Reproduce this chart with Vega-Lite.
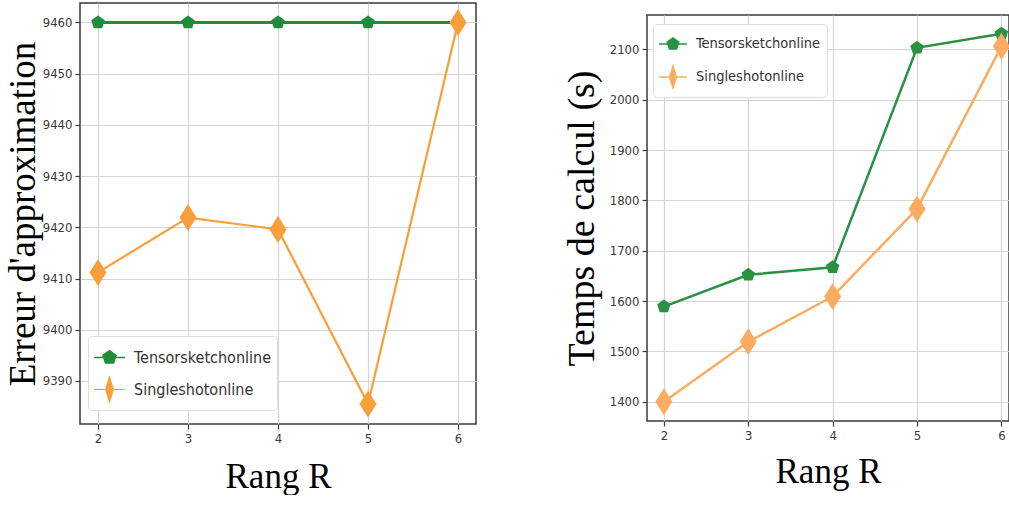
{
  "$schema": "https://vega.github.io/schema/vega-lite/v6.json",
  "padding": {"left": 3, "top": 2, "right": 0, "bottom": 0},
  "background": "white",
  "spacing": 85,
  "datasets": {
    "err": [
      {"R": 2, "serie": "Tensorsketchonline", "v": 9460},
      {"R": 3, "serie": "Tensorsketchonline", "v": 9460},
      {"R": 4, "serie": "Tensorsketchonline", "v": 9460},
      {"R": 5, "serie": "Tensorsketchonline", "v": 9460},
      {"R": 6, "serie": "Tensorsketchonline", "v": 9460},
      {"R": 2, "serie": "Singleshotonline", "v": 9411.2},
      {"R": 3, "serie": "Singleshotonline", "v": 9421.9},
      {"R": 4, "serie": "Singleshotonline", "v": 9419.6},
      {"R": 5, "serie": "Singleshotonline", "v": 9385.5},
      {"R": 6, "serie": "Singleshotonline", "v": 9460}
    ],
    "temps": [
      {"R": 2, "serie": "Tensorsketchonline", "v": 1589},
      {"R": 3, "serie": "Tensorsketchonline", "v": 1652},
      {"R": 4, "serie": "Tensorsketchonline", "v": 1667},
      {"R": 5, "serie": "Tensorsketchonline", "v": 2103},
      {"R": 6, "serie": "Tensorsketchonline", "v": 2131},
      {"R": 2, "serie": "Singleshotonline", "v": 1400},
      {"R": 3, "serie": "Singleshotonline", "v": 1519},
      {"R": 4, "serie": "Singleshotonline", "v": 1609},
      {"R": 5, "serie": "Singleshotonline", "v": 1783},
      {"R": 6, "serie": "Singleshotonline", "v": 2106}
    ],
    "empty": []
  },
  "config": {
    "view": {"stroke": "#3a3a3a", "strokeWidth": 1.5},
    "axis": {
      "grid": true,
      "gridColor": "#d4d4d4",
      "gridWidth": 1.2,
      "domain": false,
      "ticks": true,
      "tickColor": "#3a3a3a",
      "tickSize": 5,
      "tickWidth": 1.2,
      "labelFont": "DejaVu Sans Condensed, DejaVu Sans",
      "labelFontSize": 13,
      "labelColor": "#3a3a3a",
      "labelPadding": 3,
      "titleFont": "Liberation Serif",
      "titleFontWeight": "normal",
      "titleColor": "#000000"
    },
    "legend": {
      "orient": "none",
      "title": null,
      "fillColor": "white",
      "strokeColor": "#dddddd",
      "cornerRadius": 4,
      "padding": 6,
      "columnPadding": 0,
      "labelFont": "DejaVu Sans Condensed, DejaVu Sans",
      "labelColor": "#333333",
      "symbolStrokeWidth": 0,
      "symbolOpacity": 1,
      "labelOffset": 9
    }
  },
  "hconcat": [
    {
      "width": 396,
      "height": 421,
      "data": {"name": "err"},
      "encoding": {
        "x": {
          "field": "R", "type": "quantitative",
          "scale": {"domain": [1.8, 6.2], "nice": false, "zero": false},
          "axis": {"values": [2, 3, 4, 5, 6], "format": "d", "title": "Rang R", "titleFontSize": 35, "titlePadding": 14}
        },
        "y": {
          "field": "v", "type": "quantitative",
          "scale": {"domain": [9381.6, 9463.8], "nice": false, "zero": false},
          "axis": {"values": [9390, 9400, 9410, 9420, 9430, 9440, 9450, 9460], "format": "d", "title": "Erreur  d'approximation", "titleFontSize": 37, "titlePadding": 0}
        },
        "color": {
          "field": "serie", "type": "nominal",
          "scale": {"domain": ["Tensorsketchonline", "Singleshotonline"], "range": ["#1f8c3a", "#f89e3a"]},
          "legend": {
            "legendX": 8, "legendY": 333, "labelFontSize": 16, "symbolSize": 961, "rowPadding": 8,
            "encode": {"symbols": {"update": {"size": {"value": 961}, "opacity": {"value": 1}}}}
          }
        }
      },
      "layer": [
        {
          "mark": {"type": "line"},
          "encoding": {"strokeWidth": {"condition": {"test": "datum.serie === 'Tensorsketchonline'", "value": 3}, "value": 2.2}}
        },
        {
          "mark": {"type": "point", "filled": true, "opacity": 1},
          "encoding": {
            "shape": {"condition": {"test": "datum.serie === 'Tensorsketchonline'", "value": "M0,-1L0.951,-0.309L0.588,0.809L-0.588,0.809L-0.951,-0.309Z"}, "value": "M0,-1L0.63,0L0,1L-0.63,0Z"},
            "size": {"condition": {"test": "datum.serie === 'Tensorsketchonline'", "value": 200}, "value": 730}
          }
        },
        {
          "mark": {"type": "point", "filled": true, "opacity": 0},
          "encoding": {
            "shape": {
              "field": "serie", "type": "nominal",
              "scale": {"domain": ["Tensorsketchonline", "Singleshotonline"], "range": ["M-1,-0.05H1V0.05H-1Z M0,-0.5L0.476,-0.155L0.294,0.405L-0.294,0.405L-0.476,-0.155Z", "M-1,-0.04H1V0.04H-1Z M0,-0.93L0.29,0L0,0.93L-0.29,0Z"]}
            }
          }
        }
      ]
    },
    {
      "spacing": 10,
      "vconcat": [
        {
          "width": 362,
          "height": 1,
          "view": {"stroke": null},
          "data": {"name": "empty"},
          "mark": {"type": "point", "opacity": 0},
          "encoding": {}
        },
        {
          "width": 362,
          "height": 406,
          "data": {"name": "temps"},
          "encoding": {
            "x": {
              "field": "R", "type": "quantitative",
              "scale": {"domain": [1.8, 6.09], "nice": false, "zero": false},
              "axis": {"values": [2, 3, 4, 5, 6], "format": "d", "title": "Rang R", "titleFontSize": 35, "titlePadding": 12}
            },
            "y": {
              "field": "v", "type": "quantitative",
              "scale": {"domain": [1361.6, 2168.3], "nice": false, "zero": false},
              "axis": {"values": [1400, 1500, 1600, 1700, 1800, 1900, 2000, 2100], "format": "d", "title": "Temps  de calcul (s)", "titleFontSize": 38, "titlePadding": 8}
            },
            "color": {
              "field": "serie", "type": "nominal",
              "scale": {"domain": ["Tensorsketchonline", "Singleshotonline"], "range": ["#2a9142", "#fbac62"]},
              "legend": {
                "legendX": 6, "legendY": 21, "labelFontSize": 14.5, "symbolSize": 784, "rowPadding": 12,
                "encode": {"symbols": {"update": {"size": {"value": 784}, "opacity": {"value": 1}}}}
              }
            }
          },
          "layer": [
            {
              "mark": {"type": "line", "strokeWidth": 2.5}
            },
            {
              "mark": {"type": "point", "filled": true, "opacity": 1},
              "encoding": {
                "shape": {"condition": {"test": "datum.serie === 'Tensorsketchonline'", "value": "M0,-1L0.951,-0.309L0.588,0.809L-0.588,0.809L-0.951,-0.309Z"}, "value": "M0,-1L0.63,0L0,1L-0.63,0Z"},
                "size": {"condition": {"test": "datum.serie === 'Tensorsketchonline'", "value": 200}, "value": 730}
              }
            },
            {
              "mark": {"type": "point", "filled": true, "opacity": 0},
              "encoding": {
                "shape": {
                  "field": "serie", "type": "nominal",
                  "scale": {"domain": ["Tensorsketchonline", "Singleshotonline"], "range": ["M-1,-0.055H1V0.055H-1Z M0,-0.5L0.476,-0.155L0.294,0.405L-0.294,0.405L-0.476,-0.155Z", "M-1,-0.045H1V0.045H-1Z M0,-0.95L0.3,0L0,0.95L-0.3,0Z"]}
                }
              }
            }
          ]
        }
      ]
    }
  ],
  "resolve": {"scale": {"color": "independent", "shape": "independent"}, "legend": {"color": "independent", "shape": "independent"}}
}
